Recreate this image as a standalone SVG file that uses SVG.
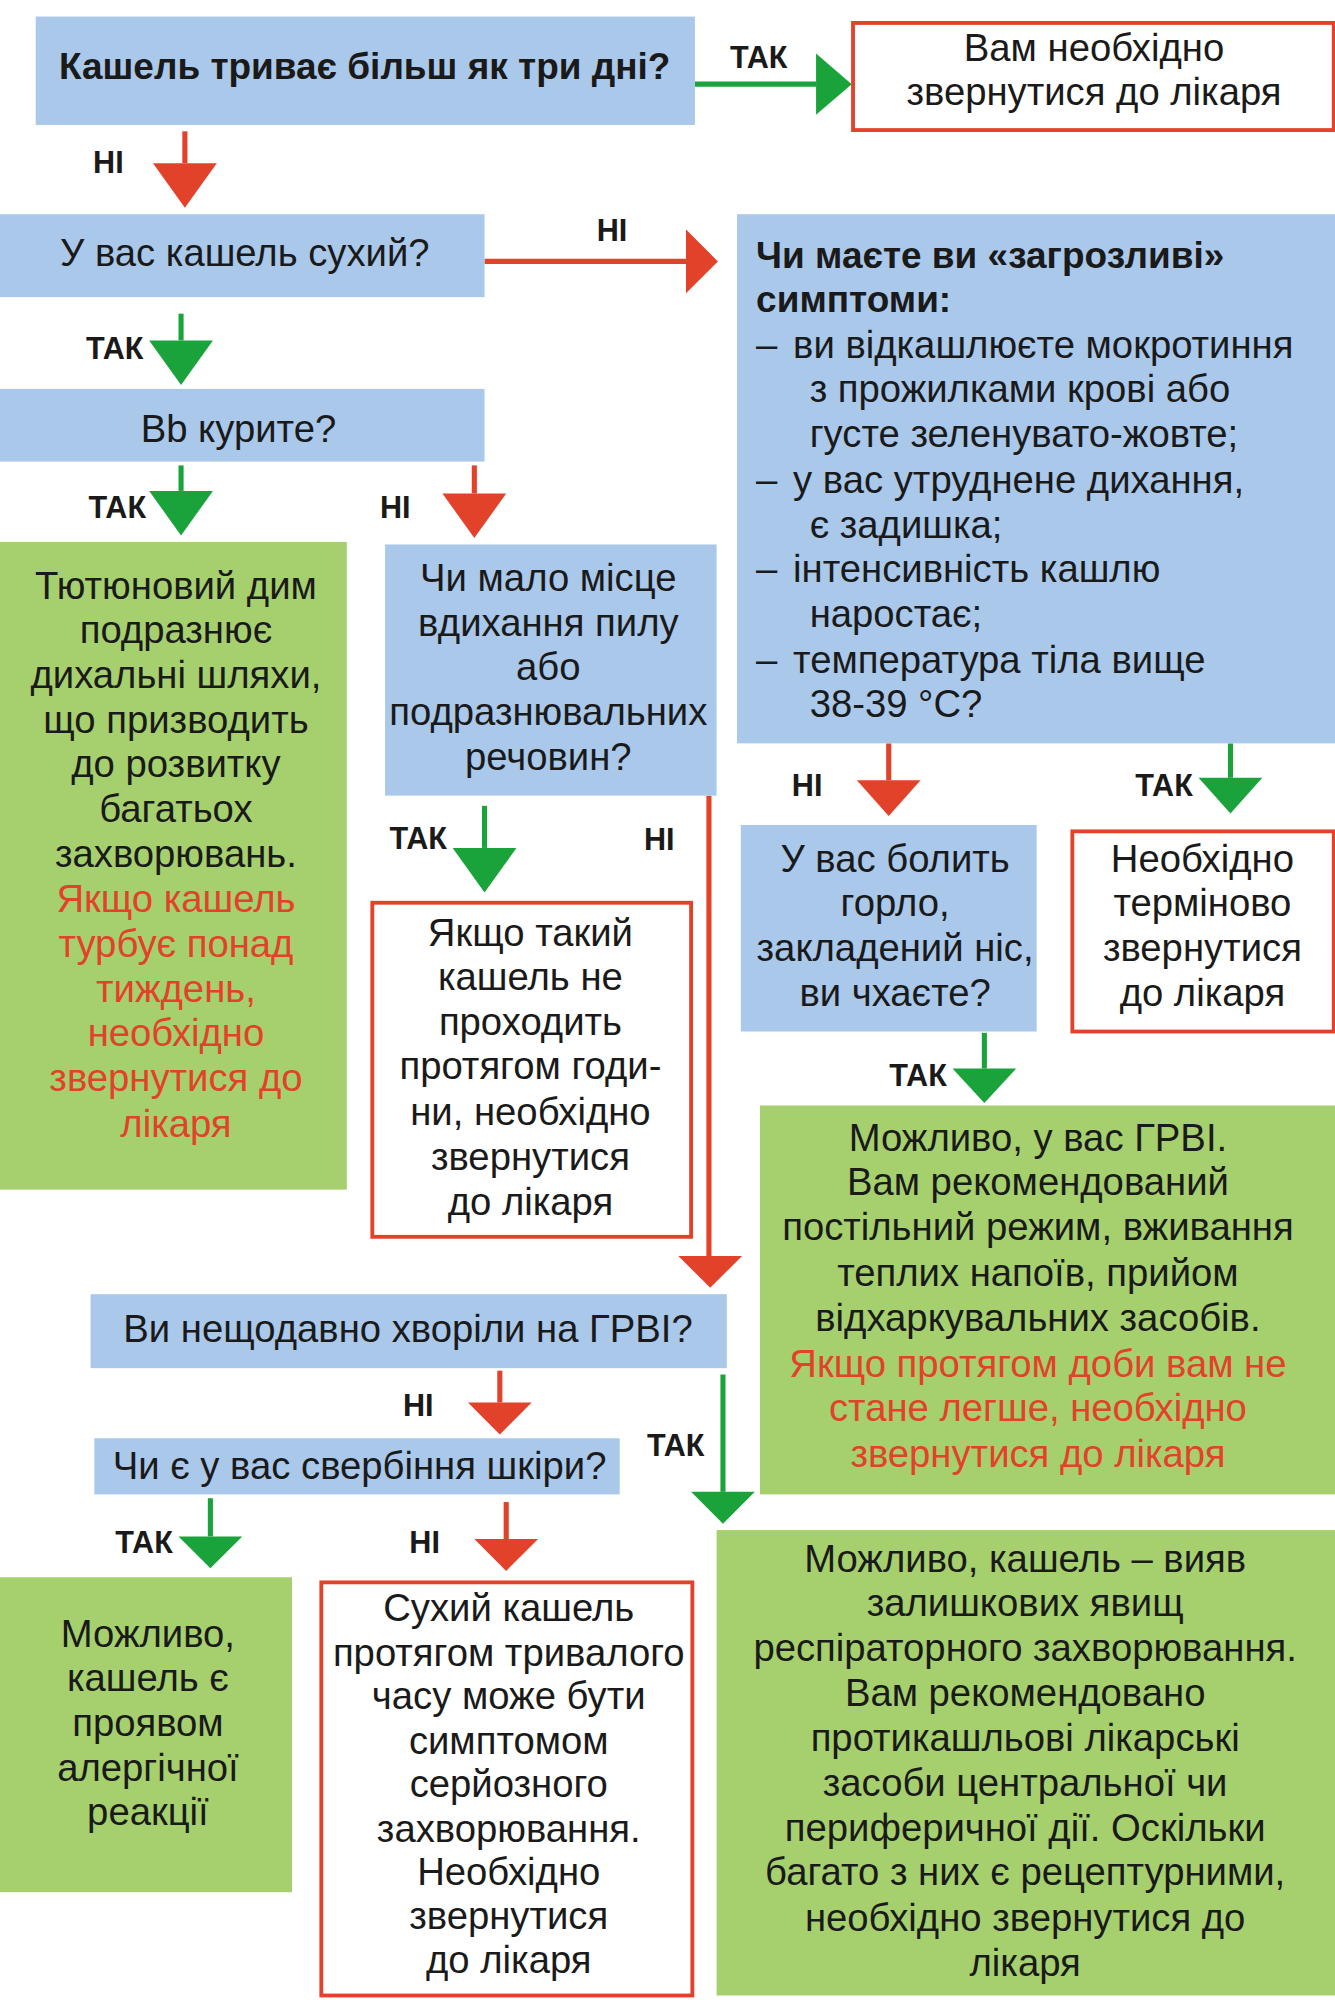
<svg xmlns="http://www.w3.org/2000/svg" width="1335" height="2000" viewBox="0 0 1335 2000">
<style>
.b{fill:#a9c8ea}.g{fill:#a6d06d}.r{fill:#fff;stroke:#e2412a;stroke-width:3}
text{font-family:"Liberation Sans",Arial,sans-serif;font-size:30px;fill:#1a1a1a;dominant-baseline:central}
.c{text-anchor:middle}.bold{font-weight:bold;font-size:29px}.red{fill:#e2412a}
.lb{font-weight:bold;font-size:24px;text-anchor:middle}
.lr{stroke:#e2412a;stroke-width:4;fill:none}.lg{stroke:#1aa33a;stroke-width:4;fill:none}
.hr{fill:#e2412a}.hg{fill:#1aa33a}
</style>
<rect width="1335" height="2000" fill="#fff"/>
<g transform="scale(1.27507)">
<g id="connectors">
<path class="lg" d="M545 66H640"/><polygon class="hg" points="640,42 668,66 640,90"/><text class="lb" x="595" y="45">ТАК</text>
<path class="lr" d="M145 103V128"/><polygon class="hr" points="120,128 170,128 145,163"/><text class="lb" x="85" y="127">НІ</text>
<path class="lr" d="M380 205H538"/><polygon class="hr" points="538,180 563,205 538,230"/><text class="lb" x="480" y="180">НІ</text>
<path class="lg" d="M142 246V267"/><polygon class="hg" points="117,267 167,267 142,302"/><text class="lb" x="90" y="273">ТАК</text>
<path class="lg" d="M142 365V385"/><polygon class="hg" points="117,385 167,385 142,420"/><text class="lb" x="92" y="398">ТАК</text>
<path class="lr" d="M372 365V387"/><polygon class="hr" points="347,387 397,387 372,422"/><text class="lb" x="310" y="398">НІ</text>
<path class="lg" d="M380 632V665"/><polygon class="hg" points="355,665 405,665 380,700"/><text class="lb" x="328" y="657">ТАК</text>
<text class="lb" x="517" y="658">НІ</text>
<path class="lr" d="M556 624V988"/><polygon class="hr" points="532,985 582,985 557,1010"/>
<path class="lr" d="M697 583V612"/><polygon class="hr" points="672,612 722,612 697,640"/><text class="lb" x="633" y="616">НІ</text>
<path class="lg" d="M965 583V610"/><polygon class="hg" points="940,610 990,610 965,638"/><text class="lb" x="913" y="616">ТАК</text>
<path class="lg" d="M772 810V838"/><polygon class="hg" points="747,838 797,838 772,865"/><text class="lb" x="720" y="843">ТАК</text>
<path class="lr" d="M392 1075V1100"/><polygon class="hr" points="367,1100 417,1100 392,1125"/><text class="lb" x="328" y="1102">НІ</text>
<path class="lg" d="M567 1078V1170"/><polygon class="hg" points="542,1170 592,1170 567,1195"/><text class="lb" x="530" y="1133">ТАК</text>
<path class="lg" d="M165 1175V1205"/><polygon class="hg" points="140,1205 190,1205 165,1230"/><text class="lb" x="113" y="1209">ТАК</text>
<path class="lr" d="M397 1178V1207"/><polygon class="hr" points="372,1207 422,1207 397,1232"/><text class="lb" x="333" y="1209">НІ</text>
</g>
<g id="q1"><rect class="b" x="28" y="13" width="517" height="85"/><text class="c bold" x="286" y="52">Кашель триває більш як три дні?</text></g>
<g id="doc1"><rect class="r" x="669" y="18" width="377" height="84"/><text class="c" x="858" y="37">Вам необхідно</text><text class="c" x="858" y="72">звернутися до лікаря</text></g>
<g id="q2"><rect class="b" x="0" y="168" width="380" height="65"/><text class="c" x="192" y="198">У вас кашель сухий?</text></g>
<g id="q3"><rect class="b" x="578" y="168" width="469" height="415"/>
<text class="bold" x="593" y="200">Чи маєте ви «загрозливі»</text><text class="bold" x="593" y="235">симптоми:</text>
<text x="593" y="270">–</text><text x="622" y="270">ви відкашлюєте мокротиння</text>
<text x="635" y="305">з прожилками крові або</text><text x="635" y="340">густе зеленувато-жовте;</text>
<text x="593" y="376">–</text><text x="622" y="376">у вас утруднене дихання,</text>
<text x="635" y="411">є задишка;</text>
<text x="593" y="446">–</text><text x="622" y="446">інтенсивність кашлю</text>
<text x="635" y="481">наростає;</text>
<text x="593" y="517">–</text><text x="622" y="517">температура тіла вище</text>
<text x="635" y="552">38-39 °С?</text></g>
<g id="q4"><rect class="b" x="0" y="305" width="380" height="57"/><text class="c" x="187" y="336">Вb курите?</text></g>
<g id="smoke"><rect class="g" x="0" y="425" width="272" height="508"/>
<text class="c" x="138" y="459">Тютюновий дим</text><text class="c" x="138" y="494">подразнює</text><text class="c" x="138" y="529">дихальні шляхи,</text><text class="c" x="138" y="564">що призводить</text><text class="c" x="138" y="599">до розвитку</text><text class="c" x="138" y="634">багатьох</text><text class="c" x="138" y="669">захворювань.</text>
<text class="c red" x="138" y="705">Якщо кашель</text><text class="c red" x="138" y="740">турбує понад</text><text class="c red" x="138" y="775">тиждень,</text><text class="c red" x="138" y="810">необхідно</text><text class="c red" x="138" y="845">звернутися до</text><text class="c red" x="138" y="881">лікаря</text></g>
<g id="q5"><rect class="b" x="302" y="427" width="260" height="197"/>
<text class="c" x="430" y="453">Чи мало місце</text><text class="c" x="430" y="488">вдихання пилу</text><text class="c" x="430" y="523">або</text><text class="c" x="430" y="558">подразнювальних</text><text class="c" x="430" y="593">речовин?</text></g>
<g id="doc2"><rect class="r" x="292" y="708" width="250" height="262"/>
<text class="c" x="416" y="731">Якщо такий</text><text class="c" x="416" y="766">кашель не</text><text class="c" x="416" y="801">проходить</text><text class="c" x="416" y="836">протягом годи-</text><text class="c" x="416" y="872">ни, необхідно</text><text class="c" x="416" y="907">звернутися</text><text class="c" x="416" y="942">до лікаря</text></g>
<g id="q6"><rect class="b" x="581" y="647" width="232" height="162"/>
<text class="c" x="702" y="673">У вас болить</text><text class="c" x="702" y="708">горло,</text><text class="c" x="702" y="743">закладений ніс,</text><text class="c" x="702" y="778">ви чхаєте?</text></g>
<g id="doc3"><rect class="r" x="841" y="652" width="205" height="157"/>
<text class="c" x="943" y="673">Необхідно</text><text class="c" x="943" y="708">терміново</text><text class="c" x="943" y="743">звернутися</text><text class="c" x="943" y="778">до лікаря</text></g>
<g id="flu"><rect class="g" x="596" y="867" width="451" height="305"/>
<text class="c" x="814" y="892">Можливо, у вас ГРВІ.</text><text class="c" x="814" y="927">Вам рекомендований</text><text class="c" x="814" y="962">постільний режим, вживання</text><text class="c" x="814" y="998">теплих напоїв, прийом</text><text class="c" x="814" y="1033">відхаркувальних засобів.</text>
<text class="c red" x="814" y="1069">Якщо протягом доби вам не</text><text class="c red" x="814" y="1104">стане легше, необхідно</text><text class="c red" x="814" y="1140">звернутися до лікаря</text></g>
<g id="q7"><rect class="b" x="71" y="1015" width="499" height="58"/><text class="c" x="320" y="1042">Ви нещодавно хворіли на ГРВІ?</text></g>
<g id="q8"><rect class="b" x="74" y="1128" width="412" height="44"/><text class="c" x="282" y="1149">Чи є у вас свербіння шкіри?</text></g>
<g id="allergy"><rect class="g" x="0" y="1237" width="229" height="247"/>
<text class="c" x="116" y="1281">Можливо,</text><text class="c" x="116" y="1316">кашель є</text><text class="c" x="116" y="1351">проявом</text><text class="c" x="116" y="1386">алергічної</text><text class="c" x="116" y="1421">реакції</text></g>
<g id="doc4"><rect class="r" x="252" y="1241" width="291" height="324"/>
<text class="c" x="399" y="1261">Сухий кашель</text><text class="c" x="399" y="1296">протягом тривалого</text><text class="c" x="399" y="1330">часу може бути</text><text class="c" x="399" y="1365">симптомом</text><text class="c" x="399" y="1399">серйозного</text><text class="c" x="399" y="1434">захворювання.</text><text class="c" x="399" y="1468">Необхідно</text><text class="c" x="399" y="1502">звернутися</text><text class="c" x="399" y="1537">до лікаря</text></g>
<g id="residual"><rect class="g" x="562" y="1200" width="485" height="365"/>
<text class="c" x="804" y="1222">Можливо, кашель – вияв</text><text class="c" x="804" y="1257">залишкових явищ</text><text class="c" x="804" y="1292">респіраторного захворювання.</text><text class="c" x="804" y="1327">Вам рекомендовано</text><text class="c" x="804" y="1363">протикашльові лікарські</text><text class="c" x="804" y="1398">засоби центральної чи</text><text class="c" x="804" y="1433">периферичної дії. Оскільки</text><text class="c" x="804" y="1468">багато з них є рецептурними,</text><text class="c" x="804" y="1504">необхідно звернутися до</text><text class="c" x="804" y="1539">лікаря</text></g>
</g>
</svg>
